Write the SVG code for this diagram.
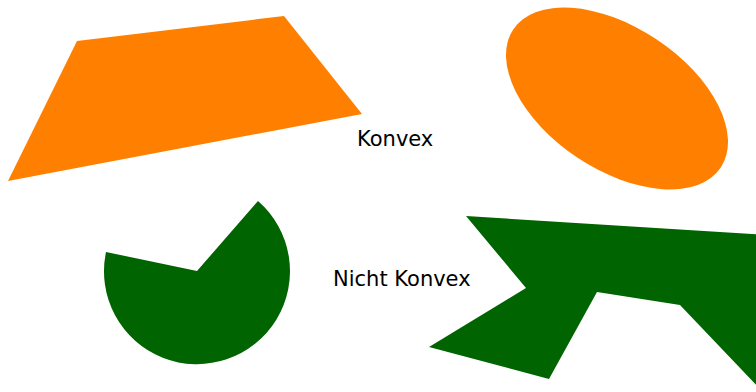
<svg xmlns="http://www.w3.org/2000/svg" width="756" height="392" viewBox="0 0 756 392">
  <style>
    .convex { fill: #ff8000; }
    .concave { fill: #006400; }
    .label { font-family: "DejaVu Sans", sans-serif; font-size: 21px; fill: #000; }
  </style>
  <rect width="756" height="392" fill="#fff"/>
  <!-- convex shapes -->
  <g id="quad">
    <polygon class="convex" points="77,41 284,16 362,114 8,181"/>
  </g>
  <g id="ellipse">
    <ellipse class="convex" cx="617" cy="98.5" rx="124.6" ry="71.2" transform="rotate(33.6 617 98.5)"/>
  </g>
  <g id="label-convex">
    <text class="label" x="357" y="146">Konvex</text>
  </g>
  <!-- non-convex shapes -->
  <g id="wedge">
    <path class="concave" d="M197,271 L106,252 A93,93 0 1 0 258,201 Z"/>
  </g>
  <g id="polygon">
    <polygon class="concave" points="466,216 800,237 800,431 680,305 597,292 549,379 429,347 526,288"/>
  </g>
  <g id="label-nonconvex">
    <text class="label" x="333" y="286">Nicht Konvex</text>
  </g>
</svg>
